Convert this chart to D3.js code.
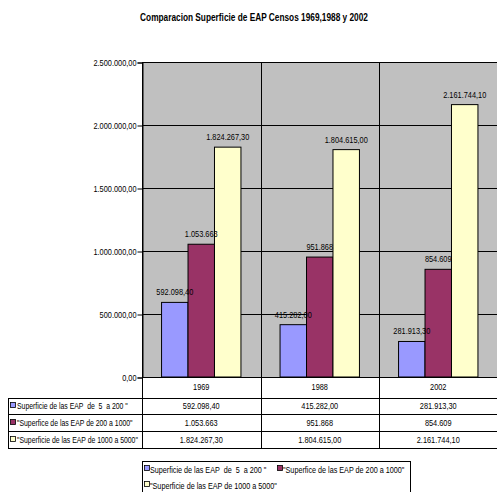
<!DOCTYPE html>
<html>
<head>
<meta charset="utf-8">
<script src="https://cdn.jsdelivr.net/npm/d3@7"></script>
<style>
  body { margin: 0; background: #fff; }
  text { font-family: "Liberation Sans", Arial, sans-serif; fill: #000; white-space: pre; }
</style>
</head>
<body>
<svg id="chart"></svg>
<script>
var years = ["1969", "1988", "2002"];
var seriesNames = [
  "Superficie de las EAP  de  5  a 200 \"",
  "\"Superfice de las EAP de 200 a 1000\"",
  "\"Superficie de las EAP de 1000 a 5000\""
];
var serie1 = [592098.40, 415282.00, 281913.30];
var serie2 = [1053663, 951868, 854609];
var serie3 = [1824267.30, 1804615.00, 2161744.10];
var yTicks = [0, 500000, 1000000, 1500000, 2000000, 2500000];
var colors = ["#9999ff", "#993366", "#ffffcc"];

var screen = {width: 497, height: 492};
var plot = {left: 142, right: 497.5, top: 62, bottom: 377};
var narrow = 0.82;

var loc = d3.formatLocale({decimal: ",", thousands: ".", grouping: [3], currency: ["", ""]});
var fmt2 = loc.format(",.2f");
var fmt0 = loc.format(",.0f");
var formats = [fmt2, fmt0, fmt2];

var allSeries = [serie1, serie2, serie3];

// narrow text: position with a transform so the glyphs get squeezed like Arial Narrow
var place = function(sel, fx, fy, sx){
  sel.attr("x", 0).attr("y", 0)
    .attr("transform", function(d, i){
      return "translate(" + fx(d, i) + "," + fy(d, i) + ") scale(" + (sx || narrow) + ",1)";
    });
  return sel;
};

var svg = d3.select("#chart")
  .attr("width", screen.width)
  .attr("height", screen.height);

place(svg.append("text")
  .attr("text-anchor", "middle")
  .attr("font-weight", "bold")
  .attr("font-size", 10)
  .text("Comparacion Superficie de EAP Censos 1969,1988 y 2002"),
  function(){ return 254; }, function(){ return 20.5; }, 0.83);

var xScale = d3.scaleBand()
  .domain(years)
  .range([plot.left, plot.right]);

var bw = xScale.bandwidth();
var xSub = d3.scaleBand()
  .domain([0, 1, 2])
  .range([bw * 0.165, bw * 0.835]);

var yScale = d3.scaleLinear()
  .domain([0, 2500000])
  .range([plot.bottom, plot.top]);

// plot background
svg.append("rect")
  .attr("x", plot.left)
  .attr("y", plot.top)
  .attr("width", plot.right - plot.left)
  .attr("height", plot.bottom - plot.top)
  .attr("fill", "#c0c0c0");

// horizontal grid
svg.append("g")
  .selectAll("line")
  .data(yTicks)
  .enter()
  .append("line")
  .attr("x1", plot.left)
  .attr("x2", plot.right)
  .attr("y1", function(d){ return Math.round(yScale(d)) + 0.5; })
  .attr("y2", function(d){ return Math.round(yScale(d)) + 0.5; })
  .attr("stroke", "#000")
  .attr("stroke-width", 1);

// vertical category lines (plot + table)
var vx = years.map(function(y){ return xScale(y); }).concat([plot.right]);
svg.append("g")
  .selectAll("line")
  .data(vx)
  .enter()
  .append("line")
  .attr("x1", function(d){ return Math.round(d) + 0.5; })
  .attr("x2", function(d){ return Math.round(d) + 0.5; })
  .attr("y1", plot.top)
  .attr("y2", 448)
  .attr("stroke", "#000");

// y axis
var yAxis = d3.axisLeft(yScale)
  .tickValues(yTicks)
  .tickSize(5)
  .tickFormat(function(d){ return fmt2(d); });

var ya = svg.append("g")
  .attr("transform", "translate(" + (plot.left + 0.5) + ",0.5)")
  .call(yAxis);
ya.select(".domain").attr("stroke", "#000");
ya.selectAll(".tick line").attr("stroke", "#000");
place(ya.selectAll(".tick text")
  .attr("font-size", 9)
  .attr("font-family", "Liberation Sans, Arial, sans-serif")
  .attr("fill", "#000")
  .attr("dy", "0.32em"),
  function(){ return -6; }, function(){ return 0; });

// bars
allSeries.forEach(function(values, s){
  svg.append("g")
    .selectAll("rect")
    .data(values)
    .enter()
    .append("rect")
    .attr("x", function(d, i){ return xScale(years[i]) + xSub(s); })
    .attr("y", function(d){ return yScale(d); })
    .attr("width", xSub.bandwidth())
    .attr("height", function(d){ return plot.bottom - yScale(d); })
    .attr("fill", colors[s])
    .attr("stroke", "#000")
    .attr("stroke-width", 1);
});

// value labels on top of everything
allSeries.forEach(function(values, s){
  place(svg.append("g").selectAll("text")
    .data(values)
    .enter()
    .append("text")
    .attr("text-anchor", "middle")
    .attr("font-size", 9)
    .text(function(d){ return formats[s](d); }),
    function(d, i){ return xScale(years[i]) + xSub(s) + xSub.bandwidth() / 2; },
    function(d){ return yScale(d) - 7; });
});

// data table
var rowY = [377, 397.5, 414, 431, 448];
var table = svg.append("g");

table.selectAll("line.h")
  .data(rowY)
  .enter()
  .append("line")
  .attr("class", "h")
  .attr("x1", function(d, i){ return i === 0 ? plot.left : 8; })
  .attr("x2", plot.right)
  .attr("y1", function(d){ return Math.round(d) + 0.5; })
  .attr("y2", function(d){ return Math.round(d) + 0.5; })
  .attr("stroke", "#000");

table.append("line")
  .attr("x1", 8.5).attr("x2", 8.5)
  .attr("y1", 398).attr("y2", 448.5)
  .attr("stroke", "#000");

place(table.selectAll("text.year")
  .data(years)
  .enter()
  .append("text")
  .attr("text-anchor", "middle")
  .attr("font-size", 9)
  .text(function(d){ return d; }),
  function(d){ return xScale(d) + bw / 2; }, function(){ return 390; });

allSeries.forEach(function(values, s){
  var cy = (rowY[s + 1] + rowY[s + 2]) / 2;
  table.append("rect")
    .attr("x", 10.5)
    .attr("y", Math.round(cy) - 3.5)
    .attr("width", 5)
    .attr("height", 5)
    .attr("fill", colors[s])
    .attr("stroke", "#000")
    .attr("stroke-width", 0.8);
  place(table.append("text")
    .attr("font-size", 8.5)
    .text(seriesNames[s]),
    function(){ return 17; }, function(){ return cy + 3.5; }, 0.81);
  place(table.selectAll("text.v" + s)
    .data(values)
    .enter()
    .append("text")
    .attr("text-anchor", "middle")
    .attr("font-size", 9)
    .text(function(d){ return formats[s](d); }),
    function(d, i){ return xScale(years[i]) + bw / 2; },
    function(){ return cy + 3.5; });
});

// legend
var legend = svg.append("g");
legend.append("rect")
  .attr("x", 142.5)
  .attr("y", 461.5)
  .attr("width", 268)
  .attr("height", 40)
  .attr("fill", "#fff")
  .attr("stroke", "#000");

var legendPos = [{x: 144, y: 469}, {x: 277, y: 469}, {x: 144, y: 485}];
legendPos.forEach(function(p, s){
  legend.append("rect")
    .attr("x", p.x + 0.5)
    .attr("y", p.y - 3.5)
    .attr("width", 5)
    .attr("height", 5)
    .attr("fill", colors[s])
    .attr("stroke", "#000")
    .attr("stroke-width", 0.8);
  place(legend.append("text")
    .attr("font-size", 8.5)
    .text(seriesNames[s]),
    function(){ return p.x + 6; }, function(){ return p.y + 3.5; }, 0.85);
});
</script>
</body>
</html>
